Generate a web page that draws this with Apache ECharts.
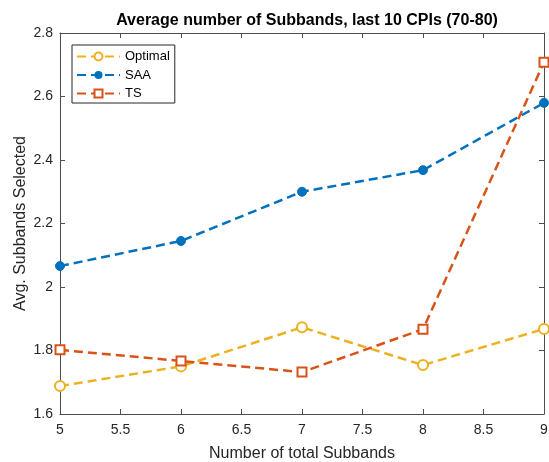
<!DOCTYPE html>
<html><head><meta charset="utf-8">
<script src="https://cdn.jsdelivr.net/npm/echarts@6/dist/echarts.min.js"></script>
<style>html,body{margin:0;padding:0;background:#fff}#c{width:549px;height:462px}</style>
</head><body><div id="c"></div>
<script>
const xValues = [5, 6, 7, 8, 9];
const optimal = [1.688, 1.750, 1.873, 1.754, 1.868];
const saa = [2.066, 2.145, 2.300, 2.368, 2.580];
const ts = [1.802, 1.767, 1.732, 1.867, 2.708];
const seriesNames = ['Optimal', 'SAA', 'TS'];
const xTicks = [5, 5.5, 6, 6.5, 7, 7.5, 8, 8.5, 9];
const yTicks = [1.6, 1.8, 2, 2.2, 2.4, 2.6, 2.8];

const pairs = arr => xValues.map((x, i) => [x, arr[i]]);
const font = 'Helvetica, Arial, "Liberation Sans", sans-serif';
const axisCol = '#4d4d4d';
const lbl = {color: '#262626', fontSize: 14, fontFamily: font};
const dash = [9, 5];

const chart = echarts.init(document.getElementById('c'));
chart.setOption({
  animation: false,
  title: {text: 'Average number of Subbands, last 10 CPIs (70-80)', left: 302, top: 8, textAlign: 'center',
    textStyle: {fontSize: 16, fontWeight: 'bold', color: '#000', fontFamily: font}},
  grid: {left: 60, right: 5, top: 33, bottom: 48, containLabel: false, outerBoundsMode: 'none'},
  legend: {left: 72, top: 45, orient: 'vertical', itemWidth: 43, itemHeight: 10, itemGap: 5.5,
    borderColor: '#262626', borderWidth: 1, borderRadius: 0, padding: [5, 5, 3, 4],
    backgroundColor: '#fff', textStyle: {fontSize: 13, color: '#000', fontFamily: font},
    data: seriesNames},
  xAxis: [{type: 'value', min: 5, max: 9, interval: 0.5,
    name: 'Number of total Subbands', nameLocation: 'middle', nameGap: 32, nameMoveOverlap: false,
    nameTextStyle: {fontSize: 16, color: '#262626', fontFamily: font},
    axisLine: {lineStyle: {color: axisCol}}, axisTick: {inside: true, length: 5, lineStyle: {color: axisCol}},
    axisLabel: Object.assign({margin: 9, formatter: v => xTicks.includes(v) ? String(v) : ''}, lbl), splitLine: {show: false}},
    {type: 'value', position: 'top', min: 5, max: 9, interval: 0.5,
    axisLine: {show: true, lineStyle: {color: axisCol}}, axisTick: {inside: true, length: 5, lineStyle: {color: axisCol}},
    axisLabel: {show: false}, splitLine: {show: false}}],
  yAxis: [{type: 'value', min: 1.6, max: 2.8, interval: 0.2,
    name: 'Avg. Subbands Selected', nameLocation: 'middle', nameGap: 31, nameMoveOverlap: false,
    nameTextStyle: {fontSize: 16, color: '#262626', fontFamily: font},
    axisLine: {show: true, lineStyle: {color: axisCol}}, axisTick: {show: true, inside: true, length: 5, lineStyle: {color: axisCol}},
    axisLabel: Object.assign({margin: 7, formatter: v => { const r = Math.round(v * 10) / 10; return yTicks.includes(r) ? String(r) : ''; }}, lbl), splitLine: {show: false}},
    {type: 'value', position: 'right', min: 1.6, max: 2.8, interval: 0.2,
    axisLine: {show: true, lineStyle: {color: axisCol}}, axisTick: {show: true, inside: true, length: 5, lineStyle: {color: axisCol}},
    axisLabel: {show: false}, splitLine: {show: false}}],
  series: [
    {name: seriesNames[0], type: 'line', data: pairs(optimal), symbol: 'circle', symbolSize: 10,
      itemStyle: {color: '#fff', borderColor: '#EDB120', borderWidth: 2},
      lineStyle: {color: '#EDB120', width: 2.5, type: dash}, z: 3},
    {name: seriesNames[1], type: 'line', data: pairs(saa), symbol: 'circle', symbolSize: 9,
      itemStyle: {color: '#0072BD', borderColor: '#0072BD'},
      lineStyle: {color: '#0072BD', width: 2.5, type: dash}, z: 4},
    {name: seriesNames[2], type: 'line', data: pairs(ts), symbol: 'rect', symbolSize: 9,
      itemStyle: {color: '#fff', borderColor: '#D95319', borderWidth: 2},
      lineStyle: {color: '#D95319', width: 2.5, type: dash}, z: 5}
  ]
});
</script></body></html>
